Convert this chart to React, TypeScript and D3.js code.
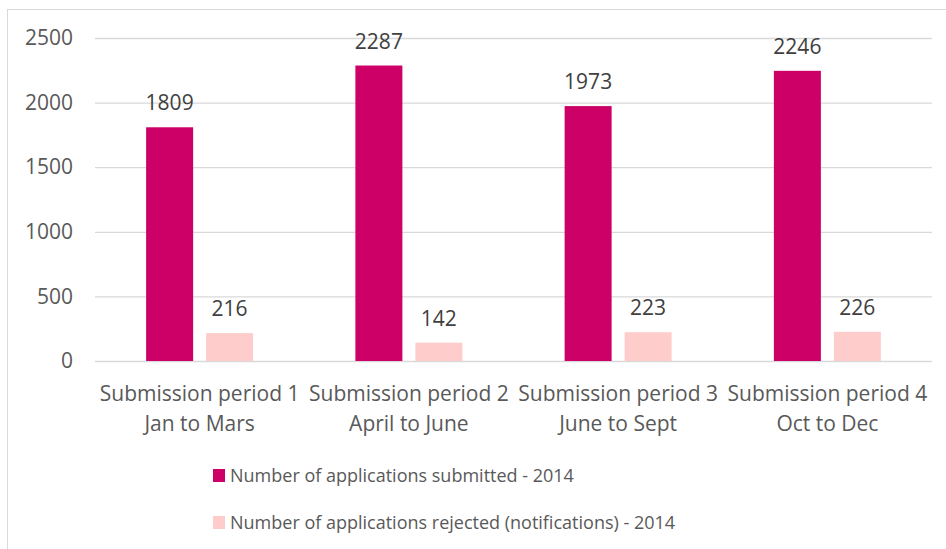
import * as d3 from "d3";
import React, { useEffect, useRef } from "react";

const categories = [
  ["Submission period 1", "Jan to Mars"],
  ["Submission period 2", "April to June"],
  ["Submission period 3", "June to Sept"],
  ["Submission period 4", "Oct to Dec"],
];
const seriesNames = [
  "Number of applications submitted - 2014",
  "Number of applications rejected (notifications) - 2014",
];
const submitted = [1809, 2287, 1973, 2246];
const rejected = [216, 142, 223, 226];
const yTicks = [0, 500, 1000, 1500, 2000, 2500];

const colors = ["#CC0066", "#FFCCCC"];
const font = "'Open Sans', sans-serif";

export default function App() {
  const svgRef = useRef<SVGSVGElement>(null);
  const width = 946;
  const height = 549;
  const margin = { top: 38, right: 14, bottom: 188, left: 95 };

  useEffect(() => {
    const svg = d3.select(svgRef.current);
    svg.selectAll("*").remove();

    const innerWidth = width - margin.left - margin.right;
    const innerHeight = height - margin.top - margin.bottom;

    // frame
    svg
      .append("rect")
      .attr("x", 7.5)
      .attr("y", 9.5)
      .attr("width", width)
      .attr("height", height)
      .attr("fill", "white")
      .attr("stroke", "#D9D9D9");

    const g = svg
      .append("g")
      .attr("transform", `translate(${margin.left}, ${margin.top})`);

    const keys = categories.map((c) => c[0]);
    const x0 = d3
      .scaleBand()
      .domain(keys)
      .range([0, innerWidth])
      .paddingInner(0.4887)
      .paddingOuter(0.4887 / 2);
    const x1 = d3
      .scaleBand()
      .domain(["0", "1"])
      .range([0, x0.bandwidth()])
      .paddingInner(0.2167);
    const yScale = d3.scaleLinear().domain([0, 2500]).range([innerHeight, 0]);

    // grid + y labels
    const yAxis = d3
      .axisLeft(yScale)
      .tickValues(yTicks)
      .tickFormat(d3.format("d"))
      .tickSize(-innerWidth)
      .tickPadding(22);
    const yAxisG = g.append("g").call(yAxis);
    yAxisG.select(".domain").remove();
    yAxisG.selectAll(".tick line").attr("stroke", "#D9D9D9").attr("stroke-width", 1.3);
    yAxisG
      .selectAll(".tick text")
      .attr("fill", "#595959")
      .style("font-family", font)
      .style("font-size", "21px");

    // x labels
    const xLabels = g
      .append("g")
      .selectAll("text")
      .data(categories)
      .join("text")
      .attr("x", (d) => x0(d[0])! + x0.bandwidth() / 2)
      .attr("y", innerHeight + 40)
      .attr("text-anchor", "middle")
      .attr("fill", "#595959")
      .style("font-family", font)
      .style("font-size", "21px");
    xLabels
      .append("tspan")
      .attr("x", (d) => x0(d[0])! + x0.bandwidth() / 2)
      .text((d) => d[0]);
    xLabels
      .append("tspan")
      .attr("x", (d) => x0(d[0])! + x0.bandwidth() / 2)
      .attr("dy", 30)
      .text((d) => d[1]);

    // bars
    const series = [submitted, rejected];
    series.forEach((values, si) => {
      const bg = g.append("g");
      bg.selectAll("rect")
        .data(values)
        .join("rect")
        .attr("x", (d, i) => x0(keys[i])! + x1(String(si))!)
        .attr("y", (d) => yScale(d))
        .attr("width", x1.bandwidth())
        .attr("height", (d) => innerHeight - yScale(d))
        .attr("fill", colors[si]);
      bg.selectAll("text")
        .data(values)
        .join("text")
        .attr("x", (d, i) => x0(keys[i])! + x1(String(si))! + x1.bandwidth() / 2)
        .attr("y", (d) => yScale(d) - 17)
        .attr("text-anchor", "middle")
        .attr("fill", "#404040")
        .style("font-family", font)
        .style("font-size", "21px")
        .text((d) => d);
    });

    // legend
    const legend = svg
      .append("g")
      .selectAll("g")
      .data(seriesNames)
      .join("g")
      .attr("transform", (d, i) => `translate(213, ${469 + i * 47})`);
    legend
      .append("rect")
      .attr("width", 12)
      .attr("height", 13)
      .attr("fill", (d, i) => colors[i]);
    legend
      .append("text")
      .attr("x", 17)
      .attr("y", 13)
      .attr("fill", "#595959")
      .style("font-family", font)
      .style("font-size", "18px")
      .text((d) => d);
  }, []);

  return (
    <svg
      ref={svgRef}
      width={width}
      height={height}
      style={{ position: "absolute", left: 0, top: 0 }}
    ></svg>
  );
}
